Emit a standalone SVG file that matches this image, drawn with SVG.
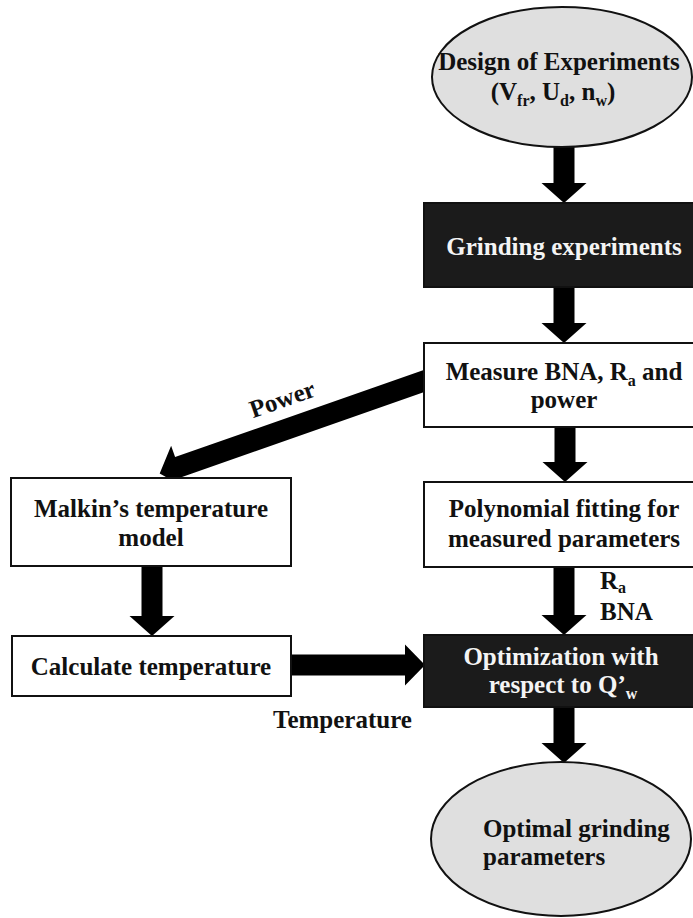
<svg xmlns="http://www.w3.org/2000/svg" width="693" height="918" viewBox="0 0 693 918">
<style>
text{font-family:"Liberation Serif","Times New Roman",serif;font-weight:bold;font-size:25px;fill:#111}
.c{text-anchor:middle}
.w{fill:#f4f4f4}
.box{fill:#fff;stroke:#111;stroke-width:2}
.dark{fill:#1b1b1b;stroke:#111;stroke-width:2}
.ell{fill:#dfdfdf;stroke:#111;stroke-width:2}
.arr{fill:#000}
.sub{font-size:16px}
</style>
<rect width="693" height="918" fill="#fff"/>
<g id="connectors">
<polygon class="arr" points="553.5,140 574.5,140 574.5,183 586.5,183 564,203 541.5,183 553.5,183"/>
<polygon class="arr" points="553.5,287 574.5,287 574.5,323 586.5,323 564,343 541.5,323 553.5,323"/>
<polygon class="arr" points="554.5,427 575.5,427 575.5,462 587.5,462 565,482 542.5,462 554.5,462"/>
<polygon class="arr" points="553.5,567 574.5,567 574.5,615 586.5,615 564,635 541.5,615 553.5,615"/>
<polygon class="arr" points="553.5,707 574.5,707 574.5,743 586.5,743 564,763 541.5,743 553.5,743"/>
<polygon class="arr" points="141.5,566 162.5,566 162.5,616 174.5,616 152,636 129.5,616 141.5,616"/>
<polygon class="arr" points="291,654.5 405,654.5 405,644.5 425,665 405,685.5 405,675.5 291,675.5"/>
<polygon class="arr" transform="translate(431.5,378.4) rotate(160.7)" points="0,-10.5 268,-10.5 268,-22.5 288,0 268,22.5 268,10.5 0,10.5"/>
<text transform="translate(285,407) rotate(-19.3)" class="c">Power</text>
<text x="273" y="728">Temperature</text>
<text x="600" y="589">R<tspan class="sub" dy="4">a</tspan></text>
<text x="600" y="620">BNA</text>
</g>
<g id="design">
<ellipse class="ell" cx="562" cy="77" rx="130" ry="70"/>
<text x="559" y="70" class="c">Design of Experiments</text>
<text x="553" y="100" class="c">(V<tspan class="sub" dy="6">fr</tspan><tspan dy="-6">, U</tspan><tspan class="sub" dy="6">d</tspan><tspan dy="-6">, n</tspan><tspan class="sub" dy="6">w</tspan><tspan dy="-6">)</tspan></text>
</g>
<g id="grinding">
<rect class="dark" x="424" y="203" width="282" height="84"/>
<text x="564" y="255" class="c w">Grinding experiments</text>
</g>
<g id="measure">
<rect class="box" x="424" y="343" width="282" height="84"/>
<text x="564" y="380" class="c">Measure BNA, R<tspan class="sub" dy="6">a</tspan><tspan dy="-6"> and</tspan></text>
<text x="564" y="408" class="c">power</text>
</g>
<g id="polynomial">
<rect class="box" x="424" y="482" width="282" height="85"/>
<text x="564" y="517" class="c">Polynomial fitting for</text>
<text x="564" y="547" class="c">measured parameters</text>
</g>
<g id="malkin">
<rect class="box" x="11" y="478" width="280" height="88"/>
<text x="151" y="517" class="c">Malkin’s temperature</text>
<text x="151" y="546" class="c">model</text>
</g>
<g id="calculate">
<rect class="box" x="12" y="636" width="279" height="60"/>
<text x="151" y="675" class="c">Calculate temperature</text>
</g>
<g id="optimization">
<rect class="dark" x="424" y="635" width="282" height="72"/>
<text x="561" y="665" class="c w">Optimization with</text>
<text x="563" y="693" class="c w">respect to Q’<tspan class="sub" dy="6">w</tspan></text>
</g>
<g id="optimal">
<ellipse class="ell" cx="561" cy="839" rx="130" ry="77"/>
<text x="483" y="837">Optimal grinding</text>
<text x="483" y="865">parameters</text>
</g>
</svg>
